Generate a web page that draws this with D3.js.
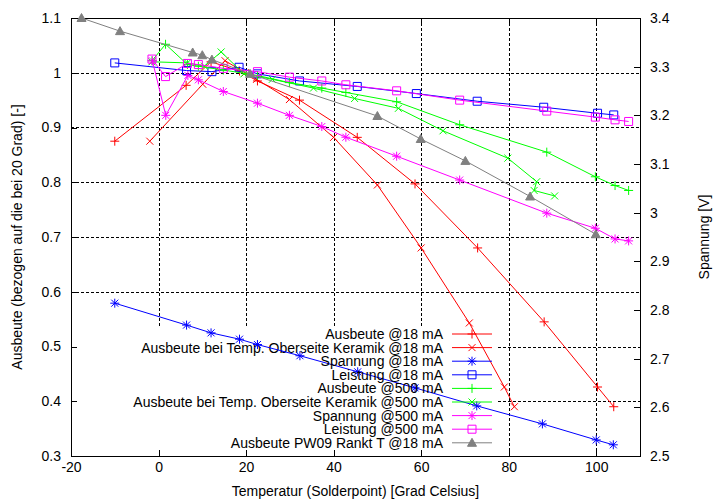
<!DOCTYPE html>
<html><head><meta charset="utf-8">
<script src="https://cdnjs.cloudflare.com/ajax/libs/d3/7.8.5/d3.min.js"></script>
<style>body{margin:0;background:#fff}svg{display:block}text{font-family:"Liberation Sans",Arial,sans-serif;font-size:14px;fill:#000}</style>
</head><body><svg id="c" width="713" height="500"></svg>
<script>
// ---- data ----
const xTicks = [-20, 0, 20, 40, 60, 80, 100];
const yTicks = [0.3, 0.4, 0.5, 0.6, 0.7, 0.8, 0.9, 1.0, 1.1];
const y2Ticks = [2.5, 2.6, 2.7, 2.8, 2.9, 3.0, 3.1, 3.2, 3.3, 3.4];

const ausbeute18 = [[-10,0.875],[6.3,0.977],[12,1.02],[18.5,1.003],[22.6,0.985],[32.2,0.950],[45.4,0.882],[58.6,0.797],[72.9,0.680],[88.1,0.545],[100.3,0.426],[104,0.390]];
const ausbeuteOS18 = [[-2,0.875],[10.1,0.979],[15.2,1.022],[19.8,1.0],[22.4,0.988],[29.9,0.951],[40,0.882],[50,0.795],[60,0.680],[71,0.543],[79,0.426],[81.3,0.390]];
const spannung18 = [[-10,2.814],[6.4,2.769],[12,2.753],[18.5,2.740],[22.6,2.729],[32.3,2.706],[45.5,2.673],[58.6,2.640],[72.7,2.603],[87.7,2.566],[100,2.533],[103.9,2.523]];
const leistung18 = [[-10,1.018],[6.4,1.004],[12.2,1.002],[18.4,1.010],[22.6,0.998],[32.2,0.985],[45.4,0.975],[58.9,0.962],[72.8,0.948],[88,0.937],[100.3,0.926],[104,0.923]];
const ausbeute500 = [[-1.5,1.022],[1.6,1.052],[6.6,1.015],[9.1,1.012],[14.8,1.005],[22.6,0.995],[29.9,0.982],[37.3,0.972],[42.8,0.964],[54.4,0.947],[68.8,0.905],[88.7,0.855],[99.8,0.810],[104.3,0.794],[107.4,0.785]];
const ausbeuteOS500 = [[-1.5,1.020],[6.6,1.018],[10.5,1.012],[14.3,1.038],[19.5,0.998],[26,0.988],[35.4,0.972],[44.8,0.953],[54.8,0.935],[65,0.894],[79.8,0.844],[86.4,0.801],[85.8,0.785],[90.5,0.775]];
const spannung500 = [[-1.4,3.312],[1.65,3.200],[6.7,3.282],[9.1,3.273],[14.8,3.249],[22.6,3.225],[29.9,3.200],[37.3,3.177],[42.8,3.155],[54.4,3.116],[68.8,3.067],[88.7,2.999],[99.8,2.968],[104.3,2.946],[107.4,2.942]];
const leistung500 = [[-1.5,1.025],[1.6,0.993],[6.6,1.017],[9.1,1.015],[14.8,1.008],[22.6,1.002],[29.9,0.992],[37.3,0.985],[42.8,0.978],[54.4,0.967],[68.8,0.950],[88.7,0.930],[99.8,0.919],[104.3,0.914],[107.4,0.911]];
const pw09 = [[-17.6,1.100],[-8.8,1.076],[7.8,1.037],[10,1.032],[12.2,1.024],[20.9,0.998],[50,0.921],[59.9,0.879],[70.1,0.839],[84.9,0.774],[99.9,0.705]];

const seriesNames = ["Ausbeute @18 mA","Ausbeute bei Temp. Oberseite Keramik @18 mA","Spannung @18 mA","Leistung @18 mA","Ausbeute @500 mA","Ausbeute bei Temp. Oberseite Keramik @500 mA","Spannung @500 mA","Leistung @500 mA","Ausbeute PW09 Rankt T @18 mA"];
const seriesData = [ausbeute18, ausbeuteOS18, spannung18, leistung18, ausbeute500, ausbeuteOS500, spannung500, leistung500, pw09];
const seriesAxis = ["y","y","y2","y","y","y","y2","y","y"];
const seriesColor = ["#ff0000","#ff0000","#0000ff","#0000ff","#00ff00","#00ff00","#ff00ff","#ff00ff","#808080"];
const seriesMarker = ["plus","cross","star","square","plus","cross","star","square","triangle"];

// ---- layout ----
const L = 71, R = 640, T = 18, B = 456;
const svg = d3.select("#c");
const x = d3.scaleLinear().domain([-20,110]).range([L,R]);
const y = d3.scaleLinear().domain([0.3,1.1]).range([B,T]);
const y2 = d3.scaleLinear().domain([2.5,3.4]).range([B,T]);
const key = {x0: L, x1: 498, y0: 327, y1: B};

// grid (hidden behind key box)
const g = svg.append("g").attr("stroke","#000").attr("stroke-width",1).attr("stroke-dasharray","3,2").attr("shape-rendering","crispEdges");
xTicks.filter(v => v > -20 && v < 110).forEach(v => {
  const px = Math.round(x(v)) + 0.5;
  const yEnd = (px > key.x0 && px < key.x1) ? key.y0 : B;
  g.append("line").attr("x1",px).attr("x2",px).attr("y1",T).attr("y2",yEnd);
});
yTicks.filter(v => v > 0.3 && v < 1.1).forEach(v => {
  const py = Math.round(y(v)) + 0.5;
  const xStart = (py > key.y0 && py < key.y1) ? key.x1 : L;
  g.append("line").attr("x1",xStart).attr("x2",R).attr("y1",py).attr("y2",py);
});

// axes (ticks inward)
const fmt = d => String(+d.toFixed(1));
const ax = svg.append("g").attr("transform",`translate(0,${B})`)
  .call(d3.axisBottom(x).tickValues(xTicks).tickSize(-6).tickPadding(6).tickFormat(d=>String(d)));
const axTop = svg.append("g").attr("transform",`translate(0,${T})`)
  .call(d3.axisTop(x).tickValues(xTicks).tickSize(-6).tickFormat(""));
const ay = svg.append("g").attr("transform",`translate(${L},0)`)
  .call(d3.axisLeft(y).tickValues(yTicks).tickSize(-6).tickPadding(10).tickFormat(fmt));
const ay2 = svg.append("g").attr("transform",`translate(${R},0)`)
  .call(d3.axisRight(y2).tickValues(y2Ticks).tickSize(-6).tickPadding(10).tickFormat(fmt));
[ax,axTop,ay,ay2].forEach(a => {
  a.select(".domain").remove();
  a.selectAll("line").attr("stroke","#000").attr("shape-rendering","crispEdges");
  a.selectAll("text").attr("font-family","Liberation Sans, Arial, sans-serif").attr("font-size",14).attr("fill","#000");
});
svg.append("rect").attr("x",L+0.5).attr("y",T+0.5).attr("width",R-L).attr("height",B-T)
  .attr("fill","none").attr("stroke","#000").attr("shape-rendering","crispEdges");

// axis labels
svg.append("text").attr("x",(L+R)/2).attr("y",496).attr("text-anchor","middle").text("Temperatur (Solderpoint) [Grad Celsius]");
svg.append("text").attr("transform",`translate(22,${(T+B)/2}) rotate(-90)`).attr("text-anchor","middle").text("Ausbeute (bezogen auf die bei 20 Grad) [-]");
svg.append("text").attr("transform",`translate(709,${(T+B)/2}) rotate(-90)`).attr("text-anchor","middle").text("Spannung [V]");

// markers
function marker(type){
  switch(type){
    case "plus": return "M-4.5,0H4.5M0,-4.5V4.5";
    case "cross": return "M-3.5,-3.5L3.5,3.5M-3.5,3.5L3.5,-3.5";
    case "star": return "M-4.5,0H4.5M0,-4.5V4.5M-3.5,-3.5L3.5,3.5M-3.5,3.5L3.5,-3.5";
    case "square": return "M-4,-4H4V4H-4Z";
    case "triangle": return "M0,-4.5L4.5,3.5L-4.5,3.5Z";
  }
}

// series
seriesData.forEach((data,i) => {
  const ys = seriesAxis[i] === "y2" ? y2 : y;
  const c = seriesColor[i];
  const sg = svg.append("g");
  sg.append("path").datum(data)
    .attr("d", d3.line().x(d=>x(d[0])).y(d=>ys(d[1])))
    .attr("fill","none").attr("stroke",c).attr("stroke-width",1);
  sg.selectAll("path.m").data(data).enter().append("path").attr("class","m")
    .attr("transform",d=>`translate(${x(d[0])},${ys(d[1])})`)
    .attr("d",marker(seriesMarker[i]))
    .attr("fill", seriesMarker[i]==="triangle" ? c : "none")
    .attr("stroke",c).attr("stroke-width",1);
  // legend
  const ly = 334 + i*13.6;
  svg.append("text").attr("x",443).attr("y",ly).attr("dy","0.35em").attr("text-anchor","end").text(seriesNames[i]);
  svg.append("line").attr("x1",452).attr("x2",492).attr("y1",ly).attr("y2",ly).attr("stroke",c);
  svg.append("path").attr("transform",`translate(472,${ly})`).attr("d",marker(seriesMarker[i]))
    .attr("fill", seriesMarker[i]==="triangle" ? c : "none").attr("stroke",c);
});
</script></body></html>
